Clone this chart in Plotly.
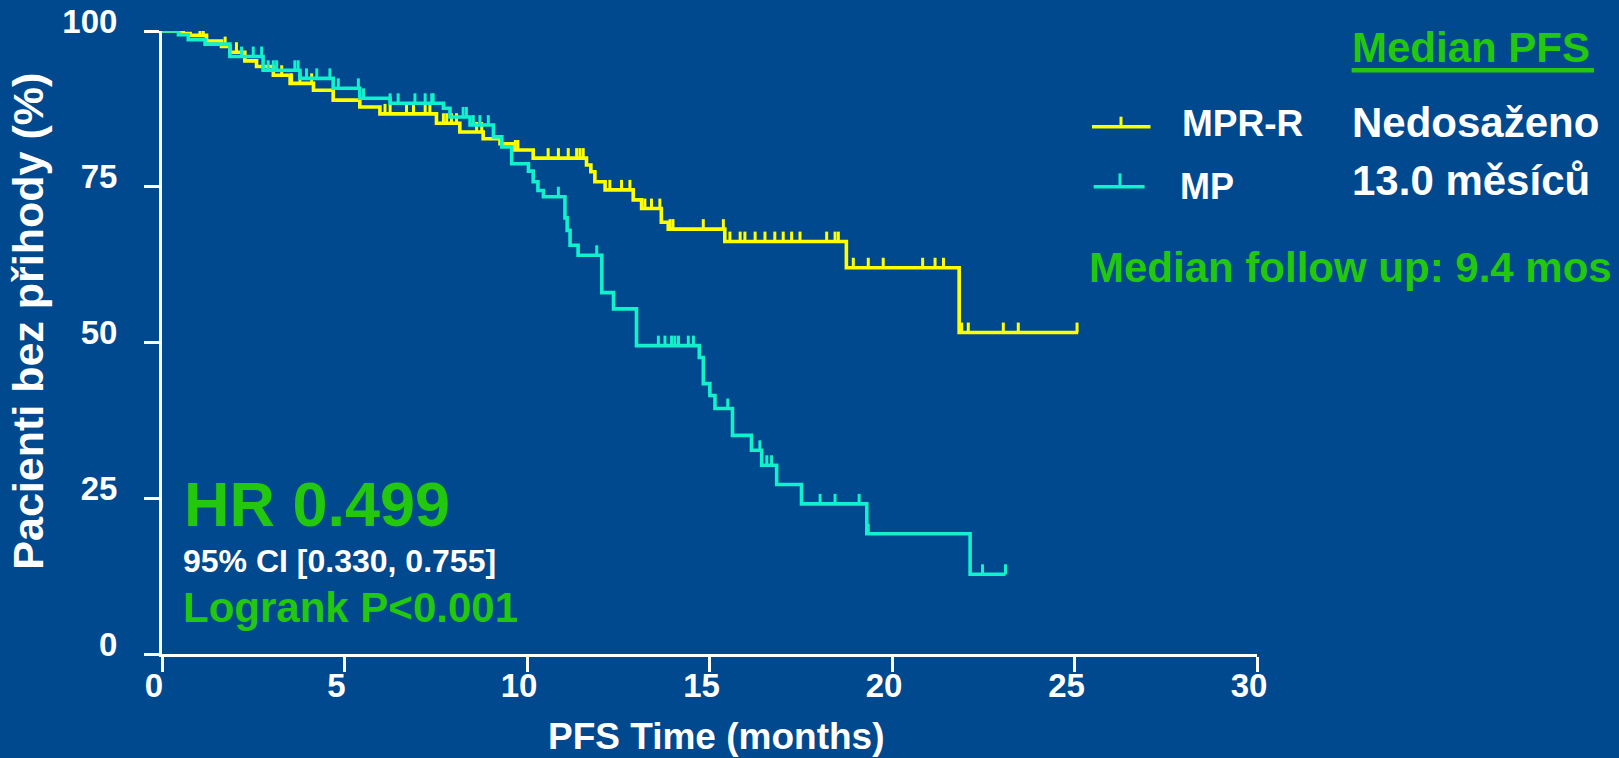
import numpy as np
import plotly.graph_objects as go

# ---- Kaplan-Meier step data (time in months, % progression-free) ----
mprr_times = [0, 0.58, 0.77, 1.22, 1.63, 1.86, 2.27, 2.59, 3.05, 3.51, 4.15, 4.69,
              5.42, 5.97, 7.52, 8.16, 8.80, 9.26, 9.62, 10.17, 11.63, 11.75, 11.86,
              12.14, 12.91, 13.14, 13.68, 13.87, 15.42, 18.75, 21.84]
mprr_surv = [100, 99.6, 99.3, 98.4, 97.5, 96.6, 95.2, 94.3, 92.9, 91.6, 90.5, 88.9,
             87.8, 86.7, 85.2, 83.8, 82.7, 81.9, 80.9, 79.6, 78.5, 77.4, 75.8,
             74.5, 72.9, 71.5, 69.3, 68.2, 66.2, 62.0, 51.6]
mprr_last = 25.1
mprr_censor = [1.04, 1.13, 1.73, 2.04, 3.28, 3.55, 3.78, 4.10, 6.11, 6.25, 6.70, 6.89,
               7.21, 7.34, 7.71, 7.80, 7.93, 8.07, 8.62, 8.76, 9.68, 9.75, 10.58,
               10.86, 11.13, 11.36, 11.45, 11.54, 12.27, 12.59, 12.82, 13.23, 13.41,
               13.64, 13.92, 14.0, 14.83, 15.38, 15.56, 15.84, 15.97, 16.25, 16.52,
               16.79, 17.02, 17.25, 17.48, 18.21, 18.44, 18.53, 18.94, 19.35, 19.76,
               20.84, 21.18, 21.41, 21.91, 22.09, 23.05, 23.46, 25.07]

mp_times = [0, 0.45, 0.72, 1.18, 1.86, 2.77, 3.78, 4.69, 5.42, 6.25, 7.71, 7.89,
            8.44, 9.08, 9.31, 9.58, 10.04, 10.17, 10.30, 10.45, 11.04, 11.10, 11.18,
            11.40, 12.05, 12.37, 13.0, 14.72, 14.83, 15.01, 15.15, 15.63, 16.15,
            16.43, 16.84, 17.52, 19.31, 22.14]
mp_surv = [100, 99.4, 98.6, 97.9, 95.9, 93.7, 92.4, 90.8, 89.2, 88.4, 87.6, 86.2,
           84.9, 83.0, 81.4, 78.7, 77.5, 75.8, 74.4, 73.4, 70.0, 68.0, 65.6,
           64.0, 58.0, 55.4, 49.5, 47.6, 43.4, 41.5, 39.4, 35.1, 32.7,
           30.3, 27.2, 24.1, 19.3, 12.8]
mp_last = 23.11
mp_censor = [0.03, 2.18, 2.50, 2.73, 2.91, 3.05, 3.14, 3.64, 3.73, 3.96, 4.24, 4.60,
             4.83, 5.38, 5.52, 6.25, 6.47, 6.93, 7.21, 7.39, 7.43, 8.25, 8.34, 8.53,
             8.71, 8.94, 10.86, 11.91, 13.60, 13.78, 13.96, 14.05, 14.15, 14.42,
             14.56, 15.50, 16.38, 16.57, 16.70, 18.03, 18.44, 19.10, 19.35, 22.48,
             23.11]

x_ticks = [0, 5, 10, 15, 20, 25, 30]
y_ticks = [0, 25, 50, 75, 100]

BG = "#01498F"
YELLOW = "#FFFF00"
CYAN = "#12F0CC"
GREEN = "#22C70E"
WHITE = "#FFFFFF"
FONT = "Liberation Sans"

TICK_H = 1.6  # censor tick height in % units


def step_trace(times, surv, last, color, name):
    xs = list(times) + [last]
    ys = list(surv) + [surv[-1]]
    return go.Scatter(x=xs, y=ys, mode="lines", line=dict(color=color, width=3.6, shape="hv"),
                      name=name, showlegend=False, cliponaxis=False, hoverinfo="skip")


def censor_trace(times, surv, censor, color):
    t = np.asarray(times)
    s = np.asarray(surv)
    xs, ys = [], []
    for c in censor:
        lvl = s[np.searchsorted(t, c, side="right") - 1]
        xs += [c, c, None]
        ys += [lvl, lvl + TICK_H, None]
    return go.Scatter(x=xs, y=ys, mode="lines", line=dict(color=color, width=3),
                      showlegend=False, cliponaxis=False, hoverinfo="skip")


fig = go.Figure()
fig.add_trace(step_trace(mprr_times, mprr_surv, mprr_last, YELLOW, "MPR-R"))
fig.add_trace(censor_trace(mprr_times, mprr_surv, mprr_censor, YELLOW))
fig.add_trace(step_trace(mp_times, mp_surv, mp_last, CYAN, "MP"))
fig.add_trace(censor_trace(mp_times, mp_surv, mp_censor, CYAN))

# plot area geometry in pixels
L, R, T, B = 162, 1257, 31, 653.6
W, H = 1619, 758


def px(x):
    return (x - L) / (R - L)


def py(y):
    return (B - y) / (B - T)


def text(s, x, y, size, color, xanchor="left", angle=0):
    fig.add_annotation(text=f"<b>{s}</b>", x=px(x), y=py(y), xref="paper", yref="paper",
                       xanchor=xanchor, yanchor="middle", showarrow=False, textangle=angle,
                       font=dict(family=FONT, size=size, color=color))


text("HR 0.499", 182, 503.4, 63, GREEN)
text("95% CI [0.330, 0.755]", 181, 561, 32, WHITE)
text("Logrank P&lt;0.001", 181, 606.7, 42, GREEN)
text("Median PFS", 1350, 47.8, 42, GREEN)
text("MPR-R", 1180, 123.5, 37, WHITE)
text("Nedosaženo", 1350, 122.5, 42, WHITE)
text("MP", 1178, 186, 36, WHITE)
text("13.0 měsíců", 1350, 180, 42, WHITE)
text("Median follow up: 9.4 mos", 1087, 267, 42, GREEN)
text("PFS Time (months)", 716, 736.5, 37, WHITE, xanchor="center")
text("Pacienti bez přihody (%)", 28, 321.5, 43, WHITE, xanchor="center", angle=-90)


def seg(x0, y0, x1, y1, color, width):
    fig.add_shape(type="line", xref="paper", yref="paper", x0=px(x0), y0=py(y0),
                  x1=px(x1), y1=py(y1), line=dict(color=color, width=width))


# underline of the "Median PFS" heading
seg(1351.6, 70.2, 1594, 70.2, GREEN, 4.5)
# legend glyphs
seg(1092, 126.8, 1150.5, 126.8, YELLOW, 3.5)
seg(1121, 126.8, 1121, 116.6, YELLOW, 3)
seg(1093.7, 186.7, 1144.6, 186.7, CYAN, 3.5)
seg(1120, 186.7, 1120, 173.3, CYAN, 3)

axis_common = dict(showgrid=False, zeroline=False, showline=True, linecolor=WHITE,
                   linewidth=3, ticks="outside", ticklen=15, tickwidth=2.5,
                   tickcolor=WHITE, automargin=False,
                   tickfont=dict(family=FONT, size=33, color=WHITE, weight="bold"))

fig.update_layout(
    width=W, height=H,
    margin=dict(l=L, r=W - R, t=T, b=H - B, pad=0),
    paper_bgcolor=BG, plot_bgcolor=BG,
    xaxis=dict(range=[0, 30], tickvals=x_ticks, ticklabelshift=-8,
               ticklabelstandoff=-15, **axis_common),
    yaxis=dict(range=[0, 100], tickvals=y_ticks, ticklabelstandoff=20,
               ticklabelshift=-10, **axis_common),
)

fig.write_html("out.html")
